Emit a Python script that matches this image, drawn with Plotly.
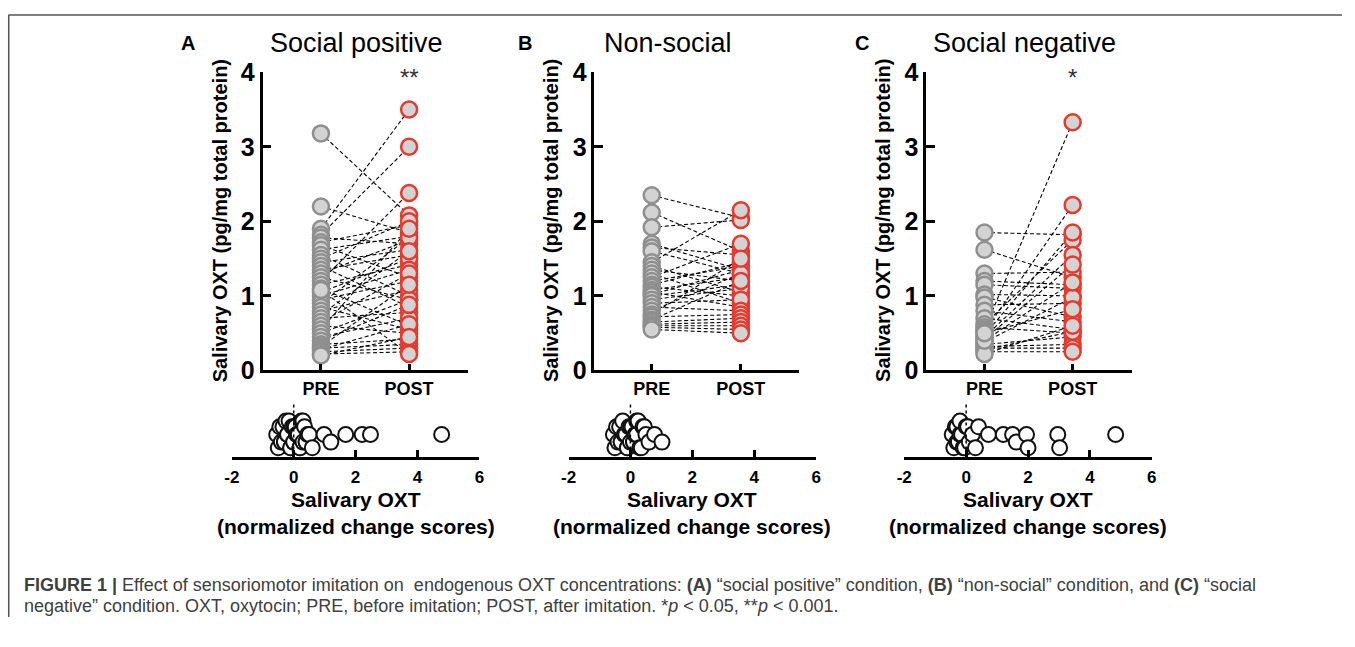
import plotly.graph_objects as go

# The page body keeps its default 8px margin, so the figure is sized to fill the 1355x647 page exactly.
PAGE_W, PAGE_H = 1355, 647
OX, OY = 8, 8
W, H = PAGE_W - OX, PAGE_H - 2 * OY
FONT = "Liberation Sans, Arial, sans-serif"

# ---------------- data ----------------
panel_letters = ["A", "B", "C"]
panel_titles = ["Social positive", "Non-social", "Social negative"]
significance = ["**", "", "*"]
time_labels = ["PRE", "POST"]
y_ticks = [0, 1, 2, 3, 4]
strip_ticks = [-2, 0, 2, 4, 6]
strip_tick_labels = ["-2", "0", "2", "4", "6"]

pre_A = [3.18, 2.20, 1.90, 1.82, 1.78, 1.72, 1.68, 1.62, 1.55, 1.50, 1.45, 1.40, 1.35, 1.30,
         1.25, 1.20, 1.15, 1.10, 1.05, 1.00, 0.95, 0.90, 0.85, 0.80, 0.75, 0.70, 0.65, 0.60,
         0.55, 0.50, 0.45, 0.40, 0.35, 0.32, 0.30, 0.28, 0.25, 0.22, 0.20, 1.08]
post_A = [2.08, 1.85, 3.50, 3.00, 1.70, 1.95, 1.25, 1.80, 1.00, 2.00, 1.62, 0.85, 1.55, 1.75,
          0.95, 2.38, 1.42, 0.60, 1.50, 1.35, 1.20, 1.78, 0.55, 1.08, 1.60, 0.78, 1.30, 0.50,
          1.90, 0.95, 0.70, 0.88, 0.42, 1.15, 0.35, 0.62, 0.30, 0.25, 0.45, 0.22]

pre_B = [2.35, 2.12, 1.92, 1.70, 1.65, 1.60, 1.45, 1.40, 1.35, 1.30, 1.25, 1.20, 1.15, 1.12,
         1.08, 1.05, 1.02, 1.00, 0.95, 0.90, 0.85, 0.80, 0.75, 0.72, 0.68, 0.65, 0.62, 0.60,
         0.58, 0.55]
post_B = [2.05, 1.60, 2.02, 1.35, 1.55, 1.30, 2.15, 1.05, 1.20, 0.90, 1.70, 1.40, 1.45, 1.00,
          1.25, 0.85, 1.35, 1.15, 1.10, 0.95, 0.80, 1.30, 1.50, 0.75, 1.20, 0.70, 0.65, 0.60,
          0.55, 0.50]

pre_C = [1.85, 1.62, 1.30, 1.20, 1.15, 1.02, 0.98, 0.88, 0.80, 0.70, 0.62, 0.58, 0.55, 0.52,
         0.48, 0.45, 0.42, 0.38, 0.35, 0.32, 0.30, 0.28, 0.25, 0.22, 0.40, 0.50]
post_C = [1.82, 1.25, 1.32, 1.15, 1.10, 1.00, 0.72, 0.90, 0.65, 0.55, 1.75, 0.50, 3.33, 2.22,
          1.85, 1.55, 1.42, 0.98, 0.45, 0.35, 0.30, 0.52, 0.25, 0.60, 1.18, 0.82]

change_A = [-0.55, -0.5, -0.45, -0.4, -0.35, -0.3, -0.3, -0.25, -0.2, -0.2,
            -0.15, -0.1, -0.1, -0.05, 0.0, 0.0, 0.0, 0.05, 0.05, 0.1,
            0.1, 0.15, 0.15, 0.2, 0.2, 0.25, 0.3, 0.3, 0.35, 0.4,
            0.4, 0.45, 0.5, 0.6, 0.98, 1.2, 1.68, 2.21, 2.48, 4.78]
change_B = [-0.55, -0.5, -0.45, -0.4, -0.35, -0.3, -0.3, -0.25, -0.2, -0.15,
            -0.1, -0.1, -0.05, 0.0, 0.0, 0.05, 0.1, 0.1, 0.15, 0.2,
            0.2, 0.25, 0.3, 0.35, 0.4, 0.45, 0.5, 0.6, 0.78, 1.02]
change_C = [-0.45, -0.4, -0.35, -0.3, -0.3, -0.25, -0.2, -0.2, -0.15, -0.1,
            -0.05, 0.0, 0.05, 0.1, 0.2, 0.3, 0.4, 0.72, 1.2, 1.5,
            1.62, 1.95, 2.0, 2.96, 3.02, 4.83]

caption_line1 = ("<b>FIGURE 1 |</b> Effect of sensoriomotor imitation on  endogenous OXT concentrations: "
                 "<b>(A)</b> “social positive” condition, <b>(B)</b> “non-social” condition, and "
                 "<b>(C)</b> “social")
caption_line2 = ("negative” condition. OXT, oxytocin; PRE, before imitation; POST, after imitation. "
                 "*<i>p</i> &lt; 0.05, **<i>p</i> &lt; 0.001.")

pre_all = [pre_A, pre_B, pre_C]
post_all = [post_A, post_B, post_C]
change_all = [change_A, change_B, change_C]

# ---------------- layout geometry (page pixels) ----------------
panels = [
    dict(left=265, right=472, pre=324, post=413, s_left=234, s_right=484, letter_x=190, title_x=360),
    dict(left=600, right=807, pre=658, post=748, s_left=574, s_right=824, letter_x=530, title_x=674),
    dict(left=935, right=1143, pre=994, post=1083, s_left=913, s_right=1163, letter_x=870, title_x=1034),
]
Y0_PX, Y4_PX = 381, 69
S_AXIS_PX, S_TOP_PX = 472, 410
S_RANGE = [-24, 38]  # pixel-like units, 0 at 448


def fx(p):
    return (p - OX) / W


def fy(p):
    return 1 - (p - OY) / H


def swarm(vals, px_per_unit, diam, offsets):
    order = sorted(range(len(vals)), key=lambda i: vals[i])
    placed, ys = [], [0] * len(vals)
    for i in order:
        xp = vals[i] * px_per_unit
        best = None
        for off in offsets:
            ov = sum(1 for (qx, qy) in placed if (qx - xp) ** 2 + (qy - off) ** 2 < (diam * 0.55) ** 2)
            if best is None or ov < best[0]:
                best = (ov, off)
            if ov == 0:
                break
        ys[i] = best[1]
        placed.append((xp, best[1]))
    return ys


fig = go.Figure()
layout = dict(
    width=W, height=H, margin=dict(l=0, r=0, t=0, b=0),
    paper_bgcolor="white", plot_bgcolor="rgba(0,0,0,0)",
    showlegend=False, font=dict(family=FONT, color="black"),
)
annotations, shapes = [], []

for k, p in enumerate(panels):
    ia = 2 * k + 1
    ib = 2 * k + 2
    xa, ya = (f"x{ia}" if ia > 1 else "x"), (f"y{ia}" if ia > 1 else "y")
    xb, yb = f"x{ib}", f"y{ib}"
    unit = p["post"] - p["pre"]
    xr = [(p["left"] - p["pre"]) / unit, (p["right"] - p["pre"]) / unit]

    pre, post = pre_all[k], post_all[k]
    lx, ly = [], []
    for a, b in zip(pre, post):
        lx += [0, 1, None]
        ly += [a, b, None]
    fig.add_trace(go.Scatter(x=lx, y=ly, mode="lines", xaxis=xa, yaxis=ya,
                             line=dict(color="black", width=1.1, dash="4px,2.5px"), cliponaxis=False))
    fig.add_trace(go.Scatter(x=[0] * len(pre), y=pre, mode="markers", xaxis=xa, yaxis=ya, cliponaxis=False,
                             marker=dict(size=16, color="#d3d3d3", line=dict(color="#8f8f8f", width=2.5))))
    fig.add_trace(go.Scatter(x=[1] * len(post), y=post, mode="markers", xaxis=xa, yaxis=ya, cliponaxis=False,
                             marker=dict(size=16, color="#d3d3d3", line=dict(color="#e8392c", width=2.5))))

    xkey = "xaxis" if ia == 1 else f"xaxis{ia}"
    ykey = "yaxis" if ia == 1 else f"yaxis{ia}"
    layout[xkey] = dict(domain=[fx(p["left"]), fx(p["right"])], range=xr, anchor=ya,
                        tickvals=[0, 1], ticktext=time_labels, showline=True, linecolor="black",
                        linewidth=2.5, ticks="inside", ticklen=7, tickwidth=2.5, tickcolor="black",
                        showgrid=False, zeroline=False, fixedrange=True,
                        tickfont=dict(family=FONT, size=18, color="black", weight="bold"))
    layout[ykey] = dict(domain=[fy(Y0_PX), fy(Y4_PX)], range=[0, 4], anchor=xa,
                        tickvals=y_ticks, showline=True, linecolor="black", linewidth=2.5,
                        ticks="inside", ticklen=9, tickwidth=2.5, tickcolor="black",
                        showgrid=False, zeroline=False, fixedrange=True,
                        tickfont=dict(family=FONT, size=25, color="black", weight="bold"))

    sunit = (p["s_right"] - p["s_left"]) / 8.0
    chg = change_all[k]
    jit = swarm(chg, sunit, 15, [0, -8, 8, -14, 14])
    fig.add_trace(go.Scatter(x=chg, y=jit, mode="markers", xaxis=xb, yaxis=yb, cliponaxis=False,
                             marker=dict(size=15, color="white", line=dict(color="#111111", width=2))))
    layout[f"xaxis{ib}"] = dict(domain=[fx(p["s_left"]), fx(p["s_right"])], range=[-2, 6], anchor=yb,
                                tickvals=strip_ticks, ticktext=strip_tick_labels, showline=True,
                                linecolor="black", linewidth=2.5,
                                ticks="inside", ticklen=8, tickwidth=2.5, tickcolor="black",
                                showgrid=False, zeroline=False, fixedrange=True, ticklabelstandoff=2,
                                tickfont=dict(family=FONT, size=17, color="black", weight="bold"))
    layout[f"yaxis{ib}"] = dict(domain=[fy(S_AXIS_PX), fy(S_TOP_PX)], range=S_RANGE, anchor=xb,
                                visible=False, fixedrange=True)
    shapes.append(dict(type="line", xref=xb, yref=yb, x0=0, x1=0, y0=-22, y1=34,
                       line=dict(color="black", width=1.5, dash="dot"), layer="above"))

    annotations.append(dict(text="<b>Salivary OXT</b>", xref="paper", yref="paper",
                            x=fx((p["s_left"] + p["s_right"]) / 2), y=fy(516), showarrow=False,
                            xanchor="center", yanchor="middle", font=dict(family=FONT, size=21, color="black")))
    annotations.append(dict(text="<b>(normalized change scores)</b>", xref="paper", yref="paper",
                            x=fx((p["s_left"] + p["s_right"]) / 2), y=fy(544), showarrow=False,
                            xanchor="center", yanchor="middle", font=dict(family=FONT, size=21, color="black")))
    annotations.append(dict(text="<b>Salivary OXT (pg/mg total protein)</b>", xref="paper", yref="paper",
                            x=fx(p["left"] - 43), y=fy(224), showarrow=False, textangle=-90,
                            xanchor="center", yanchor="middle", font=dict(family=FONT, size=20, color="black")))
    annotations.append(dict(text=panel_titles[k], xref="paper", yref="paper", x=fx(p["title_x"]), y=fy(38),
                            showarrow=False, xanchor="center", yanchor="middle",
                            font=dict(family=FONT, size=27, color="black")))
    annotations.append(dict(text=f"<b>{panel_letters[k]}</b>", xref="paper", yref="paper",
                            x=fx(p["letter_x"]), y=fy(38), showarrow=False, xanchor="center",
                            yanchor="middle", font=dict(family=FONT, size=20, color="black")))
    if significance[k]:
        annotations.append(dict(text=significance[k], xref=xa, yref=ya, x=1, y=3.93, showarrow=False,
                                xanchor="center", yanchor="middle",
                                font=dict(family=FONT, size=24, color="#333333")))

annotations.append(dict(text=caption_line1, xref="paper", yref="paper", x=fx(22), y=fy(605), showarrow=False,
                        xanchor="left", yanchor="middle", align="left",
                        font=dict(family=FONT, size=18, color="#404040")))
annotations.append(dict(text=caption_line2, xref="paper", yref="paper", x=fx(22), y=fy(628), showarrow=False,
                        xanchor="left", yanchor="middle", align="left",
                        font=dict(family=FONT, size=18, color="#404040")))

shapes.append(dict(type="line", xref="paper", yref="paper", x0=fx(8.5), x1=1, y0=fy(9), y1=fy(9),
                   line=dict(color="#555555", width=1.5)))
shapes.append(dict(type="line", xref="paper", yref="paper", x0=fx(8.75), x1=fx(8.75), y0=fy(9), y1=0,
                   line=dict(color="#555555", width=1.5)))

layout["annotations"] = annotations
layout["shapes"] = shapes
fig.update_layout(**layout)
fig.write_html("out.html", config={"displayModeBar": False})
